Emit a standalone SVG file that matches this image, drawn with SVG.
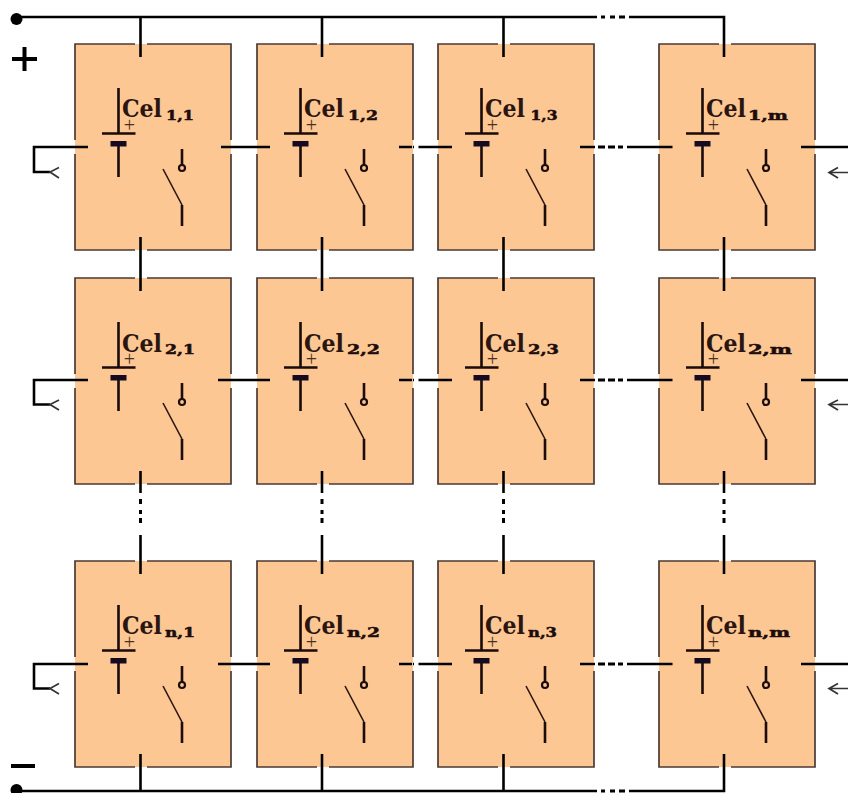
<svg xmlns="http://www.w3.org/2000/svg" width="848" height="793" viewBox="0 0 848 793">
<style>
.bg{fill:#fdc793}
.edge{fill:none;stroke:#4b3a35;stroke-width:1.7}
.wire{fill:none;stroke:#1a0a0a;stroke-width:2.6}
.thin{fill:none;stroke:#2a1510;stroke-width:1.6}
.bat{fill:#150a20}
.pin{fill:none;stroke:#1c0c0c;stroke-width:2.6}
.plus{font:20px "Liberation Serif",serif;fill:#4a3020;text-anchor:middle}
.name{font:bold 24px "DejaVu Serif",serif;fill:#2a1510}
.sub{font:bold 13px "DejaVu Serif",serif;fill:#1c0c0c;stroke:#1c0c0c;stroke-width:.5}
.conn{fill:none;stroke:#000;stroke-width:2.6}
.head{fill:none;stroke:#333;stroke-width:1.7}
.dash{fill:none;stroke:#000;stroke-width:3}
</style>
<defs>
<g id="cell">
<rect class="bg" width="156" height="206"/>
<path class="edge" d="M0 96V0H60M72 0H156V96M156 110V206H72M60 206H0V110"/>
<path class="wire" d="M43.500 44V89M27 89.500H60.500M43.500 99V133"/>
<rect class="bat" x="35.500" y="97" width="16" height="5.500"/>
<text class="plus" x="54.500" y="87.500">+</text>
<path class="pin" d="M107 105V121M107 161V182"/>
<circle cx="107" cy="124" r="3" fill="none" stroke="#1c0c0c" stroke-width="2.200"/>
<path class="thin" d="M88 125L107 161"/>
</g>
</defs>

<g id="connectors">
<path class="conn" d="M16 17H597M629 17H724V57M140.500 17V57M322 17V57M503.500 17V57"/>
<path class="dash" d="M601 17H605M610 17H615M619 17H625"/>
<path class="conn" d="M16 791H597M629 791H724V754M140.500 791V754M322 791V754M503.500 791V754"/>
<path class="dash" d="M601 791H605M610 791H615M619 791H625"/>
<path class="conn" d="M140.500 237V291M322 237V291M503.500 237V291M724 237V291"/>
<path class="conn" d="M140.500 471V493M322 471V493M503.500 471V493M724 471V493M140.500 535V574M322 535V574M503.500 535V574M724 535V574"/>
<path class="dash" d="M140.500 499V504M140.500 510V514M140.500 518V523M322 499V504M322 510V514M322 518V523M503.500 499V504M503.500 510V514M503.500 518V523M724 499V504M724 510V514M724 518V523"/>
<path class="conn" d="M88 147H34V172H50M221 147H270M399 147H414M418.500 147H452M580 147H595M627 147H672.500M801 147H848"/>
<path class="dash" d="M598 147H605M608 147H615M618 147H623"/>
<path class="conn" d="M88 380H34V404.500H50M218 380H270M399 380H414M418.500 380H452M580 380H595M627 380H672.500M801 380H848"/>
<path class="dash" d="M598 380H605M608 380H615M618 380H623"/>
<path class="conn" d="M88 664H34V688.500H50M218 664H270M399 664H414M418.500 664H452M580 664H595M627 664H672.500M801 664H848"/>
<path class="dash" d="M598 664H605M608 664H615M618 664H623"/>
<path class="head" d="M59 167.500L50 172L59 178M838 167.500L829 172.500L838 178M829 172.500H848M59 400L50 404.500L59 410M838 400L829 404.500L838 410M829 404.500H848M59 683.500L50 688.500L59 694M838 683.500L829 688.500L838 694M829 688.500H848"/>
</g>

<g id="cell-1-1"><use href="#cell" x="75" y="44"/><text class="name" x="122" y="117" textLength="40" lengthAdjust="spacingAndGlyphs">Cel</text><text class="sub" x="166" y="119.500" textLength="28" lengthAdjust="spacingAndGlyphs">1,1</text></g>
<g id="cell-1-2"><use href="#cell" x="257" y="44"/><text class="name" x="304" y="117" textLength="40" lengthAdjust="spacingAndGlyphs">Cel</text><text class="sub" x="348" y="119.500" textLength="30" lengthAdjust="spacingAndGlyphs">1,2</text></g>
<g id="cell-1-3"><use href="#cell" x="438" y="44"/><text class="name" x="485" y="117" textLength="40" lengthAdjust="spacingAndGlyphs">Cel</text><text class="sub" x="530.500" y="119.500" textLength="27" lengthAdjust="spacingAndGlyphs">1,3</text></g>
<g id="cell-1-m"><use href="#cell" x="659" y="44"/><text class="name" x="706" y="117" textLength="40" lengthAdjust="spacingAndGlyphs">Cel</text><text class="sub" x="748" y="119.500" textLength="40" lengthAdjust="spacingAndGlyphs">1,m</text></g>

<g id="cell-2-1"><use href="#cell" x="75" y="278"/><text class="name" x="122" y="352" textLength="40" lengthAdjust="spacingAndGlyphs">Cel</text><text class="sub" x="165" y="353.500" textLength="30" lengthAdjust="spacingAndGlyphs">2,1</text></g>
<g id="cell-2-2"><use href="#cell" x="257" y="278"/><text class="name" x="304" y="352" textLength="40" lengthAdjust="spacingAndGlyphs">Cel</text><text class="sub" x="347" y="353.500" textLength="33" lengthAdjust="spacingAndGlyphs">2,2</text></g>
<g id="cell-2-3"><use href="#cell" x="438" y="278"/><text class="name" x="485" y="352" textLength="40" lengthAdjust="spacingAndGlyphs">Cel</text><text class="sub" x="528" y="353.500" textLength="31" lengthAdjust="spacingAndGlyphs">2,3</text></g>
<g id="cell-2-m"><use href="#cell" x="659" y="278"/><text class="name" x="706" y="352" textLength="40" lengthAdjust="spacingAndGlyphs">Cel</text><text class="sub" x="748" y="353.500" textLength="44" lengthAdjust="spacingAndGlyphs">2,m</text></g>

<g id="cell-n-1"><use href="#cell" x="75" y="561"/><text class="name" x="122" y="634" textLength="40" lengthAdjust="spacingAndGlyphs">Cel</text><text class="sub" x="165" y="636.500" textLength="30" lengthAdjust="spacingAndGlyphs">n,1</text></g>
<g id="cell-n-2"><use href="#cell" x="257" y="561"/><text class="name" x="304" y="634" textLength="40" lengthAdjust="spacingAndGlyphs">Cel</text><text class="sub" x="347" y="636.500" textLength="33" lengthAdjust="spacingAndGlyphs">n,2</text></g>
<g id="cell-n-3"><use href="#cell" x="438" y="561"/><text class="name" x="485" y="634" textLength="40" lengthAdjust="spacingAndGlyphs">Cel</text><text class="sub" x="528" y="636.500" textLength="29" lengthAdjust="spacingAndGlyphs">n,3</text></g>
<g id="cell-n-m"><use href="#cell" x="659" y="561"/><text class="name" x="706" y="634" textLength="40" lengthAdjust="spacingAndGlyphs">Cel</text><text class="sub" x="748" y="636.500" textLength="42" lengthAdjust="spacingAndGlyphs">n,m</text></g>

<g id="connectors-over">
<path class="conn" d="M140.500 44V57M322 44V57M503.500 44V57M724 44V57M140.500 237V250M322 237V250M503.500 237V250M724 237V250M140.500 278V291M322 278V291M503.500 278V291M724 278V291M140.500 471V484M322 471V484M503.500 471V484M724 471V484M140.500 561V574M322 561V574M503.500 561V574M724 561V574M140.500 754V767M322 754V767M503.500 754V767M724 754V767"/>
<path class="conn" d="M75 147H88M221 147H231M257 147H270M399 147H412M438 147H452M580 147H594M659 147H672.500M801 147H815M75 380H88M218 380H231M257 380H270M399 380H412M438 380H452M580 380H594M659 380H672.500M801 380H815M75 664H88M218 664H231M257 664H270M399 664H412M438 664H452M580 664H594M659 664H672.500M801 664H815"/>
</g>

<g id="terminal-plus">
<circle cx="16.500" cy="19" r="6"/>
<path d="M12 59H37M24.500 47V71" fill="none" stroke="#000" stroke-width="4"/>
</g>
<g id="terminal-minus">
<circle cx="16.500" cy="790" r="6"/>
<path d="M11 766H35" fill="none" stroke="#000" stroke-width="4"/>
</g>
</svg>
